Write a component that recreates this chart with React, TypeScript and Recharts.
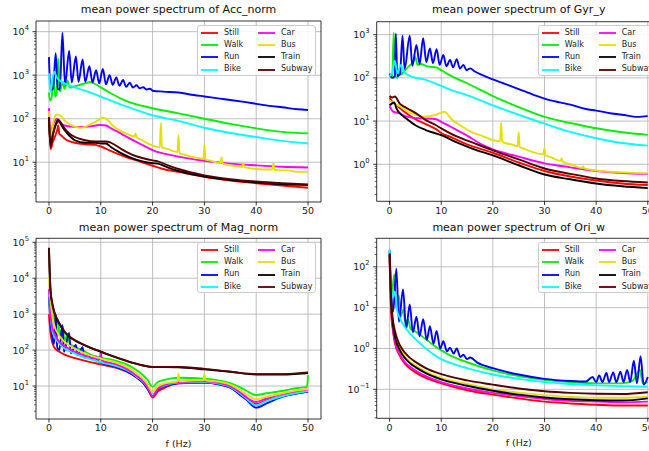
import React from 'react';
import { LineChart, Line, XAxis, YAxis, CartesianGrid, Legend, ReferenceArea } from 'recharts';

type Pt = [number, number];

const labels = ['Still', 'Walk', 'Run', 'Bike', 'Car', 'Bus', 'Train', 'Subway'];
const colors = ['#ff0000', '#00f000', '#0000ff', '#00ffff', '#ff00ff', '#e5e000', '#000000', '#550000'];
const freqTicks = [0, 10, 20, 30, 40, 50];

// Acc_norm
const accTicks = [10, 100, 1000, 10000];
const accStill: Pt[] = [[0, 110], [0.3, 20], [0.7, 28], [1.2, 40], [1.6, 55], [1.8, 70], [2.0, 45], [2.5, 40], [3, 35], [4, 30], [5, 28], [7, 26], [9, 25], [10, 23], [12, 18], [15, 13], [18, 10], [20, 8.3], [22, 7], [25, 6], [30, 4.6], [35, 3.8], [40, 3.3], [45, 2.9], [50, 2.6]];
const accWalk: Pt[] = [[0, 400], [0.2, 260], [0.5, 300], [0.9, 800], [1.2, 320], [1.5, 400], [1.8, 2400], [2.1, 420], [2.7, 700], [3.0, 480], [3.6, 750], [4, 520], [5, 560], [6, 600], [7, 650], [8, 700], [9, 620], [10, 525], [12, 380], [15, 255], [20, 174], [25, 133], [30, 100], [35, 76], [40, 60], [45, 50], [50, 46]];
const accRun: Pt[] = [[0, 2600], [0.3, 460], [0.8, 500], [1.3, 3200], [1.7, 480], [2.1, 470], [2.6, 9500], [3.1, 600], [3.9, 3600], [4.4, 680], [5.2, 2700], [5.7, 700], [6.5, 2300], [7.0, 700], [7.8, 1600], [8.4, 680], [9.1, 1300], [9.7, 650], [10.4, 1400], [11.0, 620], [11.7, 1000], [12.3, 600], [13, 890], [13.6, 570], [14.3, 775], [14.9, 540], [15.6, 670], [16.2, 520], [16.9, 590], [17.5, 500], [18.2, 530], [18.8, 470], [19.5, 490], [20, 440], [22, 420], [25, 400], [28, 350], [30, 325], [33, 290], [35, 270], [38, 240], [40, 220], [43, 195], [45, 183], [48, 165], [50, 158]];
const accBike: Pt[] = [[0, 1100], [0.3, 415], [0.6, 700], [1.0, 1200], [1.5, 900], [2, 775], [3, 650], [4, 580], [5, 525], [7, 440], [10, 320], [12, 260], [15, 190], [20, 120], [25, 89], [30, 62], [35, 47], [40, 38], [45, 31], [50, 27]];
const accCar: Pt[] = [[0, 175], [0.3, 50], [0.8, 75], [1.5, 100], [2, 85], [3, 70], [5, 65], [7, 65], [9, 70], [10, 72], [11, 70], [12, 60], [14, 45], [16, 33], [18, 25], [20, 19], [25, 13.5], [30, 10.8], [35, 9.3], [40, 8.5], [45, 7.9], [50, 7.6]];
const accBus: Pt[] = [[0, 150], [0.3, 30], [0.8, 80], [1.5, 125], [2.5, 110], [3, 90], [4, 75], [5, 66], [6, 62], [7, 65], [8, 75], [9, 85], [10.5, 105], [11.5, 90], [12, 75], [13, 60], [15, 45], [16.5, 39], [16.7, 46], [16.9, 38], [18, 32], [20, 24], [21.4, 22], [21.6, 80], [21.8, 22], [23, 20], [24, 18], [24.8, 17], [25, 42], [25.2, 16], [26, 15], [28, 13], [29.8, 12], [30, 25], [30.2, 11.5], [31, 11], [33.1, 9.5], [33.3, 13], [33.5, 9.4], [35, 8.5], [37.3, 7.8], [37.5, 9.5], [37.7, 7.7], [40, 7], [43.1, 6.8], [43.3, 9.5], [43.5, 6.7], [45, 6.5], [46, 6.5], [48, 6], [50, 6]];
const accTrain: Pt[] = [[0, 100], [0.3, 25], [0.8, 45], [1.3, 75], [1.8, 95], [2.3, 75], [3, 55], [4, 40], [5, 32], [7, 28], [9, 28], [10, 27], [11, 27], [12, 22], [14, 16], [16, 12.5], [18, 10.5], [20, 9.5], [21, 9.3], [23, 7.5], [25, 6.3], [30, 4.7], [35, 3.9], [40, 3.4], [45, 3.1], [50, 3.0]];
const accSubway: Pt[] = [[0, 110], [0.3, 22], [0.8, 45], [1.3, 70], [2, 90], [2.5, 75], [3, 60], [4, 45], [5, 38], [7, 32], [9, 30], [11, 30], [12, 28], [14, 20], [16, 15], [18, 12.5], [20, 11], [21, 10.5], [23, 8.5], [25, 7], [30, 5], [35, 4.1], [40, 3.6], [45, 3.3], [50, 3.1]];

// Gyr_y
const gyrTicks = [1, 10, 100, 1000];
const gyrStill: Pt[] = [[0, 35], [0.5, 28], [1, 25], [2, 20], [3, 16], [5, 11], [7, 8.5], [9, 6.5], [10, 5.3], [12, 4.2], [15, 2.9], [20, 1.85], [25, 1.1], [30, 0.7], [35, 0.52], [40, 0.42], [45, 0.36], [50, 0.33]];
const gyrWalk: Pt[] = [[0, 110], [0.5, 105], [0.8, 1100], [1.1, 110], [1.5, 100], [1.9, 160], [2.3, 120], [2.7, 140], [3, 150], [3.6, 180], [4, 200], [4.5, 220], [5, 300], [5.4, 200], [6, 210], [7, 190], [8, 180], [9, 175], [10, 150], [12, 110], [15, 75], [20, 38], [25, 21], [30, 12.5], [35, 9], [40, 6.8], [45, 5.5], [50, 4.8]];
const gyrRun: Pt[] = [[0, 125], [0.5, 100], [1.0, 110], [1.2, 1050], [1.5, 110], [2, 120], [2.5, 950], [2.9, 160], [3.9, 950], [4.4, 190], [5.2, 575], [5.8, 210], [6.5, 830], [7.1, 230], [7.8, 480], [8.4, 220], [9.1, 460], [9.7, 200], [10.4, 340], [11, 185], [11.7, 260], [12.3, 175], [13, 270], [13.6, 165], [14.3, 200], [14.9, 150], [15.6, 166], [16.5, 140], [18, 115], [20, 92], [22, 75], [25, 55], [28, 40], [30, 33], [33, 27], [35, 24], [38, 19], [40, 17.5], [43, 15], [45, 14], [48, 12.5], [50, 13]];
const gyrBike: Pt[] = [[0, 110], [0.5, 130], [1, 250], [1.5, 130], [2.2, 200], [2.6, 150], [3, 130], [4, 110], [5, 100], [7, 90], [10, 65], [12, 52], [15, 40], [20, 23], [25, 14], [30, 8.7], [35, 5.6], [40, 4], [45, 3.1], [50, 2.7]];
const gyrCar: Pt[] = [[0, 22], [0.3, 19], [0.7, 16.5], [2, 15], [3, 13], [5, 11.7], [7, 11.5], [9, 11], [10, 9.6], [12, 7.2], [15, 4.6], [18, 2.8], [20, 2.2], [25, 1.5], [30, 1.05], [35, 0.85], [40, 0.7], [45, 0.63], [50, 0.6]];
const gyrBus: Pt[] = [[0, 30], [1, 25], [2, 22], [3, 18], [5, 14], [6.5, 12.6], [9, 14], [10.6, 16.5], [12, 11], [14, 7.5], [16, 5.5], [18, 4.5], [20, 3.6], [21.4, 3.4], [21.6, 9], [21.8, 3.3], [24, 2.8], [24.8, 2.6], [25, 5.5], [25.2, 2.5], [26, 2.3], [29.8, 1.7], [30, 2.4], [30.2, 1.6], [31, 1.5], [33.1, 1.2], [33.3, 1.38], [33.5, 1.15], [35, 1.0], [37.3, 0.82], [37.5, 0.9], [37.7, 0.8], [40, 0.72], [45, 0.65], [50, 0.62]];
const gyrTrain: Pt[] = [[0, 23], [0.9, 27], [1.3, 20], [2, 15], [3, 12], [5, 8], [7, 6.2], [10, 4.7], [13, 3.2], [16, 2.3], [20, 1.6], [25, 0.95], [30, 0.58], [35, 0.45], [40, 0.36], [45, 0.31], [50, 0.28]];
const gyrSubway: Pt[] = [[0, 38], [0.5, 35], [1, 37], [2, 25], [3, 21], [5, 15.5], [7, 10.5], [9, 8], [10, 6.8], [13, 4.4], [16, 3.2], [20, 2.1], [25, 1.3], [30, 0.8], [35, 0.6], [40, 0.47], [45, 0.41], [50, 0.38]];

// Mag_norm
const magTicks = [10, 100, 1000, 10000, 100000];
const magStill: Pt[] = [[0, 1000], [0.3, 300], [0.6, 170], [1, 120], [2, 90], [3, 75], [5, 60], [7, 50], [10, 40], [13, 32], [15, 25], [17, 17], [18, 13], [19, 8.5], [20, 4.8], [21, 7], [22, 8.5], [25, 12], [30, 12.5], [33, 11], [35, 9], [37, 6], [38, 4.8], [40, 3.1], [42, 4], [45, 5.2], [48, 6.3], [50, 7]];
const magWalk: Pt[] = [[0, 3000], [0.3, 1200], [0.5, 800], [0.9, 1300], [1.1, 420], [1.8, 700], [2, 260], [2.7, 450], [3, 180], [3.6, 280], [4, 150], [5, 125], [6, 105], [7, 90], [8, 75], [10, 62], [13, 50], [15, 40], [17, 27], [18, 21], [19, 15], [20, 9.5], [21, 13], [22, 14.5], [25, 17], [30, 16], [33, 14], [35, 12], [37, 9], [38, 7.5], [40, 5.6], [42, 6.3], [45, 7.3], [48, 8.8], [49.8, 9.5], [50, 20]];
const magRun: Pt[] = [[0, 3000], [0.3, 600], [0.6, 250], [1, 150], [1.3, 1000], [1.6, 120], [2, 100], [2.6, 500], [2.9, 90], [3.9, 300], [4.2, 82], [5.2, 140], [5.5, 72], [6.5, 120], [6.8, 62], [7.8, 75], [8.1, 56], [9.1, 65], [9.4, 50], [10, 45], [13, 34], [15, 26], [17, 17], [18, 13], [19, 8.5], [20, 5.3], [21, 8], [22, 9.5], [25, 12], [30, 12.5], [33, 11], [35, 9], [37, 5.5], [38, 4.3], [40, 2.5], [42, 3.3], [45, 5], [48, 6.3], [50, 7]];
const magBike: Pt[] = [[0, 5000], [0.3, 900], [0.6, 380], [1, 250], [2, 150], [3, 110], [5, 80], [7, 62], [10, 46], [13, 36], [15, 28], [17, 18], [18, 14], [19, 9.5], [20, 5.8], [21, 8.5], [22, 10], [25, 12.5], [30, 13], [33, 11.5], [35, 9.5], [37, 6], [38, 4.6], [40, 2.9], [42, 3.8], [45, 5.2], [48, 6.5], [50, 7.2]];
const magCar: Pt[] = [[0, 5000], [0.3, 1000], [0.6, 450], [1, 300], [2, 170], [3, 130], [5, 90], [7, 70], [9.8, 55], [10, 90], [10.2, 52], [13, 40], [15, 30], [17, 19], [18, 14.5], [19, 9.5], [20, 5.2], [21, 8.5], [22, 10.5], [25, 13], [30, 13.5], [33, 12], [35, 10], [37, 6.5], [38, 5], [40, 3.6], [42, 4.5], [45, 6], [48, 7.3], [50, 8]];
const magBus: Pt[] = [[0, 11000], [0.3, 2500], [0.6, 1000], [1, 500], [2, 250], [3, 170], [5, 110], [7, 80], [10, 58], [13, 45], [15, 34], [17, 22], [18, 17], [19, 11.5], [20, 7], [21, 10], [22, 11.5], [24.8, 13.5], [25, 22], [25.2, 13.5], [28, 14.5], [29.8, 14.5], [30, 22], [30.2, 14.5], [33, 13], [35, 11], [37, 7.5], [38, 6], [40, 4.3], [42, 5], [45, 6.3], [48, 7.6], [50, 8.3]];
const magTrain: Pt[] = [[0, 68000], [0.3, 4500], [0.65, 1900], [1, 1150], [2, 540], [3, 320], [4, 230], [5, 185], [6, 155], [8, 115], [10, 90], [12, 70], [15, 50], [18, 38], [20, 34], [25, 33], [30, 29], [35, 25], [40, 21], [45, 21], [48, 22], [50, 23]];
const magSubway: Pt[] = [[0, 70000], [0.3, 4800], [0.65, 2000], [1, 1200], [2, 560], [3, 330], [4, 235], [5, 190], [6, 160], [8, 118], [10, 91], [12, 70], [15, 50], [18, 38], [20, 34], [25, 34], [30, 30], [35, 25], [40, 21.5], [45, 21.5], [48, 22.5], [50, 24]];

// Ori_w
const oriTicks = [0.1, 1, 10, 100];
const oriStill: Pt[] = [[0, 150], [0.3, 8], [0.6, 3], [1, 1.4], [2, 0.65], [3, 0.42], [4, 0.32], [5, 0.26], [7, 0.19], [10, 0.14], [15, 0.095], [20, 0.074], [25, 0.06], [30, 0.05], [35, 0.045], [40, 0.042], [45, 0.04], [50, 0.04]];
const oriWalk: Pt[] = [[0, 200], [0.4, 20], [0.9, 65], [1.2, 10], [1.8, 20], [2.1, 6], [2.7, 9], [3.0, 4.5], [3.6, 5], [4, 3.2], [5, 2.6], [6, 2.1], [7, 1.7], [8, 1.35], [10, 0.9], [12, 0.65], [15, 0.46], [20, 0.29], [25, 0.21], [30, 0.17], [35, 0.15], [40, 0.14], [45, 0.14], [47, 0.16], [48.5, 0.3], [49, 0.14], [50, 0.15]];
const oriRun: Pt[] = [[0, 250], [0.4, 15], [0.7, 8], [1.3, 90], [1.8, 4.5], [2.6, 28], [3.2, 3], [3.9, 12], [4.5, 2.5], [5.2, 6], [5.8, 2.0], [6.5, 5.2], [7.2, 1.6], [7.8, 3.5], [8.5, 1.3], [9.1, 2.7], [9.8, 1.0], [10.4, 1.5], [11.1, 0.85], [11.7, 1.05], [12.4, 0.75], [13, 1.0], [13.7, 0.62], [14.3, 0.7], [15, 0.55], [15.6, 0.6], [17, 0.45], [20, 0.33], [25, 0.23], [30, 0.18], [35, 0.16], [38, 0.155], [39.3, 0.2], [40, 0.15], [40.6, 0.22], [41.2, 0.15], [42, 0.25], [42.5, 0.15], [43.3, 0.26], [43.9, 0.15], [44.7, 0.27], [45.3, 0.15], [46, 0.3], [46.6, 0.15], [47.3, 0.5], [47.9, 0.14], [48.6, 0.65], [49.2, 0.13], [50, 0.2]];
const oriBike: Pt[] = [[0, 270], [0.3, 30], [0.7, 18], [1, 25], [1.5, 8], [2, 5.5], [3, 3.3], [4, 2.3], [5, 1.7], [6, 1.3], [7, 1.0], [8, 0.8], [10, 0.55], [12, 0.43], [15, 0.33], [20, 0.23], [25, 0.18], [30, 0.15], [35, 0.135], [40, 0.125], [45, 0.12], [50, 0.115]];
const oriCar: Pt[] = [[0, 180], [0.3, 10], [0.6, 3.5], [1, 1.6], [2, 0.72], [3, 0.46], [4, 0.35], [5, 0.29], [7, 0.21], [10, 0.15], [15, 0.105], [20, 0.082], [25, 0.068], [30, 0.058], [35, 0.052], [40, 0.05], [45, 0.048], [50, 0.05]];
const oriBus: Pt[] = [[0, 200], [0.3, 13], [0.6, 4.5], [1, 2.2], [2, 1.0], [3, 0.63], [4, 0.47], [5, 0.38], [7, 0.27], [10, 0.19], [15, 0.135], [20, 0.1], [25, 0.083], [30, 0.072], [35, 0.065], [40, 0.062], [45, 0.062], [50, 0.066]];
const oriTrain: Pt[] = [[0, 200], [0.3, 12], [0.6, 4.2], [1, 2.0], [2, 0.9], [3, 0.57], [4, 0.43], [5, 0.35], [7, 0.25], [10, 0.175], [15, 0.122], [20, 0.092], [25, 0.074], [30, 0.063], [35, 0.057], [40, 0.054], [45, 0.053], [50, 0.06]];
const oriSubway: Pt[] = [[0, 215], [0.3, 16], [0.6, 5.5], [1, 2.8], [2, 1.2], [3, 0.78], [4, 0.58], [5, 0.47], [7, 0.33], [10, 0.235], [15, 0.165], [20, 0.13], [25, 0.105], [30, 0.09], [35, 0.082], [40, 0.078], [45, 0.077], [50, 0.085]];

const font = '"DejaVu Sans", sans-serif';

const minorsOf = (majors: number[], lo: number, hi: number) => {
  const out: number[] = [];
  [majors[0] / 10, ...majors].forEach((m) => {
    for (let k = 2; k <= 9; k++) {
      const v = m * k;
      if (v >= lo && v <= hi) out.push(v);
    }
  });
  return out;
};

const LogTick = (props: any) => {
  const { x, y, payload } = props;
  const v = payload.value;
  const lg = Math.log10(v);
  const e = Math.round(lg);
  const major = Math.abs(lg - e) < 1e-6;
  const ax = x + 7;
  return (
    <g>
      <line x1={ax - (major ? 3.5 : 2)} x2={ax} y1={y} y2={y} stroke="#000" strokeWidth={major ? 0.8 : 0.6} />
      {major && (
        <text x={x} y={y + 3.5} textAnchor="end" fontSize={9.5} fill="#222" fontFamily={font}>
          10<tspan dy={-5} fontSize={6.8}>{e < 0 ? '\u2212' + Math.abs(e) : e}</tspan>
        </text>
      )}
    </g>
  );
};

const LegendBox = () => (
  <div
    style={{
      width: 119,
      height: 51,
      boxSizing: 'border-box',
      border: '1px solid #cccccc',
      borderRadius: 3,
      background: 'rgba(255,255,255,0.85)',
      display: 'grid',
      gridTemplateColumns: '57px 62px',
      gridTemplateRows: 'repeat(4, 12.3px)',
      gridAutoFlow: 'column',
      padding: '0.5px 0 0 3px',
      fontFamily: font,
      fontSize: 8,
      color: '#222',
    }}
  >
    {labels.map((l, i) => (
      <div key={l} style={{ display: 'flex', alignItems: 'center', whiteSpace: 'nowrap', lineHeight: '12.3px' }}>
        <svg width={17} height={4} style={{ marginRight: 6, flex: 'none' }}>
          <line x1={0} x2={17} y1={2} y2={2} stroke={colors[i]} strokeWidth={1.8} />
        </svg>
        {l}
      </div>
    ))}
  </div>
);

interface PanelProps {
  title: string;
  series: Pt[][];
  majors: number[];
  yDomain: [number, number];
  left: number;
  top: number;
  width: number;
  height: number;
  margin: { top: number; right: number; bottom: number; left: number };
  xHeight: number;
  xLabel?: string;
  legendLeft: number;
  legendTop: number;
  titleTop: number;
}

const Panel: React.FC<PanelProps> = (p) => {
  const ticks = [...p.majors, ...minorsOf(p.majors, p.yDomain[0], p.yDomain[1])].sort((a, b) => a - b);
  const plotLeft = p.margin.left + 30;
  const plotWidth = p.width - plotLeft - p.margin.right;
  return (
    <div style={{ position: 'absolute', left: p.left, top: p.top, width: p.width, height: p.height }}>
      <div
        style={{
          position: 'absolute',
          left: plotLeft,
          width: plotWidth,
          top: p.titleTop,
          textAlign: 'center',
          fontFamily: font,
          fontSize: 11,
          lineHeight: '14px',
          color: '#111',
          whiteSpace: 'nowrap',
        }}
      >
        {p.title}
      </div>
      <LineChart width={p.width} height={p.height} margin={p.margin}>
        <CartesianGrid
          stroke="#b0b0b0"
          strokeWidth={0.8}
          horizontalValues={p.majors}
          verticalValues={freqTicks}
          syncWithTicks={false}
        />
        <XAxis
          type="number"
          dataKey="f"
          domain={[-2.5, 52.5]}
          allowDataOverflow
          ticks={freqTicks}
          interval={0}
          height={p.xHeight}
          axisLine={false}
          tickSize={3.5}
          tickMargin={2}
          tickLine={{ stroke: '#000', strokeWidth: 0.8 }}
          tick={{ fontSize: 9.5, fill: '#222', fontFamily: font }}
          label={p.xLabel ? { value: p.xLabel, position: 'insideBottom', offset: 4, fontSize: 9.5, fill: '#222', fontFamily: font } : undefined}
        />
        <YAxis
          type="number"
          scale="log"
          domain={p.yDomain}
          allowDataOverflow
          ticks={ticks}
          interval={0}
          width={30}
          axisLine={false}
          tickLine={false}
          tickSize={3.5}
          tickMargin={3.5}
          tick={<LogTick />}
        />
        <Legend
          layout="horizontal"
          verticalAlign="middle"
          align="center"
          content={() => <LegendBox />}
          wrapperStyle={{ left: p.legendLeft, top: p.legendTop, width: 119, height: 51 }}
        />
        {p.series.map((s, i) => (
          <Line
            key={labels[i]}
            data={s.map(([f, v]) => ({ f, p: v }))}
            dataKey="p"
            name={labels[i]}
            stroke={colors[i]}
            strokeWidth={1.9}
            dot={false}
            type="monotone"
            isAnimationActive={false}
          />
        ))}
        <ReferenceArea
          x1={-2.5}
          x2={52.5}
          y1={p.yDomain[0]}
          y2={p.yDomain[1]}
          fill="none"
          stroke="#000"
          strokeWidth={0.8}
          ifOverflow="visible"
        />
      </LineChart>
    </div>
  );
};

export default function App() {
  return (
    <div style={{ position: 'absolute', left: 0, top: 0, width: 649, height: 451, overflow: 'hidden', background: '#fff' }}>
      <Panel
        title="mean power spectrum of Acc_norm"
        series={[accStill, accWalk, accRun, accBike, accCar, accBus, accTrain, accSubway]}
        majors={accTicks}
        yDomain={[1.22, 17600]}
        left={0}
        top={0}
        width={325}
        height={225}
        margin={{ top: 21, right: 4, bottom: 3, left: 6 }}
        xHeight={20}
        legendLeft={197}
        legendTop={25}
        titleTop={3}
      />
      <Panel
        title="mean power spectrum of Gyr_y"
        series={[gyrStill, gyrWalk, gyrRun, gyrBike, gyrCar, gyrBus, gyrTrain, gyrSubway]}
        majors={gyrTicks}
        yDomain={[0.139, 1995]}
        left={325}
        top={0}
        width={340}
        height={225}
        margin={{ top: 21.7, right: 4.3, bottom: 3.7, left: 21.7 }}
        xHeight={20}
        legendLeft={212.7}
        legendTop={25}
        titleTop={3}
      />
      <Panel
        title="mean power spectrum of Mag_norm"
        series={[magStill, magWalk, magRun, magBike, magCar, magBus, magTrain, magSubway]}
        majors={magTicks}
        yDomain={[1.21, 129000]}
        left={0}
        top={225}
        width={325}
        height={226}
        margin={{ top: 13.3, right: 4, bottom: 0, left: 6 }}
        xHeight={32}
        xLabel="f (Hz)"
        legendLeft={197}
        legendTop={17.3}
        titleTop={-4.5}
      />
      <Panel
        title="mean power spectrum of Ori_w"
        series={[oriStill, oriWalk, oriRun, oriBike, oriCar, oriBus, oriTrain, oriSubway]}
        majors={oriTicks}
        yDomain={[0.0195, 500]}
        left={325}
        top={225}
        width={340}
        height={226}
        margin={{ top: 13.3, right: 4.3, bottom: 0.7, left: 21.7 }}
        xHeight={32}
        xLabel="f (Hz)"
        legendLeft={212.7}
        legendTop={17.3}
        titleTop={-4.5}
      />
    </div>
  );
}
